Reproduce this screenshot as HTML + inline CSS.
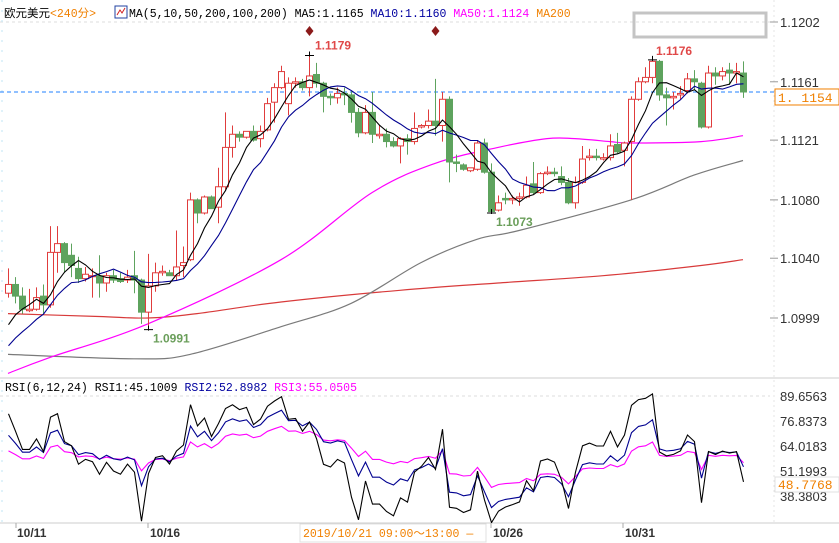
<!DOCTYPE html>
<html><head><meta charset="utf-8"><style>
body{margin:0;background:#fff;width:839px;height:543px;overflow:hidden}
svg{display:block}
.mono{font-family:"Liberation Mono","Noto Sans CJK SC",monospace;font-size:11.5px}
.ax{font-family:"Liberation Sans",sans-serif;font-size:13px;fill:#333}
</style></head><body>
<svg id="c" width="839" height="543" viewBox="0 0 839 543" xmlns="http://www.w3.org/2000/svg">
<line x1="0" y1="22" x2="770" y2="22" stroke="#ddd" stroke-dasharray="3,3"/>
<line x1="0" y1="378" x2="839" y2="378" stroke="#ccc"/>
<line x1="0" y1="396" x2="770" y2="396" stroke="#ddd" stroke-dasharray="3,3"/>
<line x1="0" y1="523" x2="839" y2="523" stroke="#ccc"/>
<line x1="774" y1="0" x2="774" y2="523" stroke="#e4e4e4" stroke-dasharray="2,3"/>
<line x1="2" y1="0" x2="2" y2="523" stroke="#bfe4f5" stroke-dasharray="2,8"/>
<text x="4" y="17" class="mono"><tspan fill="#000">欧元美元</tspan><tspan fill="#f08000">&lt;240分&gt;</tspan></text>
<rect x="115" y="6" width="12" height="12" fill="#fff" stroke="#2040a0"/>
<polyline points="117,15 120,10 122,13 125,8" fill="none" stroke="#d02020"/>
<text x="129" y="17" class="mono"><tspan fill="#000">MA(5,10,50,200,100,200) MA5:1.1165 </tspan><tspan fill="#0000a0">MA10:1.1160 </tspan><tspan fill="#ff00ff">MA50:1.1124 </tspan><tspan fill="#f08000">MA200</tspan></text>
<rect x="634" y="13" width="132" height="24" fill="none" stroke="#c4c4c4" stroke-width="3"/>
<g id="main"></g>
<g id="rsi"></g>
<text x="5" y="391" class="mono"><tspan fill="#000">RSI(6,12,24) RSI1:45.1009 </tspan><tspan fill="#0000a0">RSI2:52.8982 </tspan><tspan fill="#ff00ff">RSI3:55.0505</tspan></text>
<text x="17" y="537" font-family="Liberation Sans,sans-serif" font-size="12" font-weight="bold" fill="#333">10/11</text>
<text x="150" y="537" font-family="Liberation Sans,sans-serif" font-size="12" font-weight="bold" fill="#333">10/16</text>
<text x="493" y="537" font-family="Liberation Sans,sans-serif" font-size="12" font-weight="bold" fill="#333">10/26</text>
<text x="625" y="537" font-family="Liberation Sans,sans-serif" font-size="12" font-weight="bold" fill="#333">10/31</text>
<line x1="16" y1="523" x2="16" y2="528" stroke="#aaa"/><line x1="148" y1="523" x2="148" y2="528" stroke="#aaa"/><line x1="491" y1="523" x2="491" y2="528" stroke="#aaa"/><line x1="623" y1="523" x2="623" y2="528" stroke="#aaa"/>
<rect x="300" y="524" width="186" height="18" fill="#fff" stroke="#e0e0e0"/>
<text x="303" y="537" class="mono" fill="#f08000" font-size="12">2019/10/21 09:00～13:00 —</text>
</svg>
<script>
const open=[1.1016,1.1022,1.1014,1.1004,1.1005,1.1014,1.1008,1.1044,1.1050,1.1042,1.1033,1.1026,1.1028,1.1028,1.1023,1.1028,1.1026,1.1025,1.1028,1.1025,1.1003,1.1021,1.1030,1.1030,1.1028,1.1035,1.1039,1.1080,1.1071,1.1082,1.1075,1.1089,1.1116,1.1125,1.1123,1.1127,1.1122,1.1128,1.1147,1.1157,1.1146,1.1160,1.1161,1.1157,1.1166,1.1160,1.1151,1.1150,1.1153,1.1152,1.1140,1.1126,1.1140,1.1124,1.1125,1.1120,1.1117,1.1122,1.1120,1.1130,1.1131,1.1134,1.1131,1.1149,1.1106,1.1104,1.1100,1.1101,1.1119,1.1099,1.1073,1.1081,1.1080,1.1081,1.1082,1.1091,1.1085,1.1098,1.1099,1.1096,1.1092,1.1078,1.1092,1.1109,1.1110,1.1108,1.1109,1.1118,1.1114,1.1120,1.1149,1.1161,1.1164,1.1175,1.1152,1.1150,1.1152,1.1155,1.1163,1.1160,1.1130,1.1167,1.1165,1.1169,1.1167,1.1167];
const high=[1.1033,1.1027,1.1020,1.1019,1.1020,1.1022,1.1062,1.1062,1.1051,1.1050,1.1041,1.1034,1.1033,1.1042,1.1030,1.1032,1.1030,1.1032,1.1045,1.1026,1.1043,1.1037,1.1035,1.1032,1.1059,1.1048,1.1085,1.1081,1.1083,1.1083,1.1102,1.1140,1.1131,1.1127,1.1127,1.1131,1.1131,1.1150,1.1160,1.1172,1.1164,1.1164,1.1163,1.1179,1.1174,1.1161,1.1153,1.1157,1.1157,1.1155,1.1143,1.1145,1.1154,1.1131,1.1129,1.1123,1.1123,1.1125,1.1140,1.1132,1.1142,1.1163,1.1154,1.1151,1.1111,1.1105,1.1102,1.1121,1.1122,1.1105,1.1083,1.1085,1.1083,1.1085,1.1096,1.1106,1.1099,1.1103,1.1102,1.1103,1.1095,1.1096,1.1117,1.1115,1.1115,1.1112,1.1125,1.1126,1.1120,1.1151,1.1164,1.1171,1.1176,1.1176,1.1157,1.1154,1.1158,1.1167,1.1169,1.1161,1.1172,1.1171,1.1171,1.1174,1.1174,1.1175];
const low=[1.1013,1.1009,1.1002,1.1003,1.1004,1.1002,1.1006,1.1030,1.1030,1.1027,1.1023,1.1024,1.1013,1.1013,1.1017,1.1023,1.1023,1.1023,1.1016,1.0995,1.0991,1.1017,1.1028,1.1028,1.1025,1.1027,1.1038,1.1064,1.1070,1.1074,1.1064,1.1087,1.1109,1.1120,1.1122,1.1120,1.1116,1.1127,1.1133,1.1156,1.1138,1.1157,1.1155,1.1151,1.1157,1.1140,1.1145,1.1146,1.1145,1.1133,1.1123,1.1125,1.1119,1.1122,1.1116,1.1116,1.1105,1.1111,1.1118,1.1129,1.1129,1.1124,1.1120,1.1092,1.1099,1.1100,1.1099,1.1100,1.1098,1.1071,1.1072,1.1077,1.1077,1.1076,1.1081,1.1084,1.1084,1.1097,1.1096,1.1090,1.1077,1.1074,1.1091,1.1107,1.1107,1.1107,1.1107,1.1112,1.1103,1.1080,1.1148,1.1160,1.1160,1.1148,1.1131,1.1142,1.1149,1.1153,1.1155,1.1129,1.1129,1.1159,1.1162,1.1159,1.1160,1.1150];
const close=[1.1022,1.1014,1.1005,1.1005,1.1013,1.1008,1.1044,1.1050,1.1037,1.1035,1.1026,1.1029,1.1028,1.1023,1.1028,1.1025,1.1024,1.1027,1.1025,1.1003,1.1021,1.1030,1.1031,1.1028,1.1034,1.1037,1.1080,1.1071,1.1082,1.1074,1.1089,1.1116,1.1125,1.1123,1.1127,1.1121,1.1127,1.1146,1.1157,1.1168,1.1160,1.1161,1.1157,1.1165,1.1160,1.1151,1.1150,1.1153,1.1152,1.1140,1.1126,1.1140,1.1125,1.1125,1.1120,1.1117,1.1122,1.1120,1.1129,1.1131,1.1134,1.1131,1.1149,1.1106,1.1105,1.1101,1.1102,1.1119,1.1099,1.1072,1.1078,1.1080,1.1081,1.1082,1.1090,1.1085,1.1098,1.1099,1.1098,1.1092,1.1078,1.1092,1.1108,1.1110,1.1109,1.1109,1.1117,1.1113,1.1119,1.1149,1.1161,1.1164,1.1175,1.1152,1.1150,1.1151,1.1153,1.1163,1.1161,1.1130,1.1167,1.1165,1.1168,1.1167,1.1168,1.1154];
const priorCloses=[1.0960,1.0962,1.0965,1.0968,1.0972,1.0980,1.0985,1.0990,1.0995];
const ma50Idx=[0,6,20,39,52,61,70,77,81,86,89,99,105];
const ma50Val=[1.0961,1.0972,1.0995,1.1039,1.1085,1.1105,1.1116,1.1122,1.1122,1.1120,1.1119,1.1120,1.1124];
const ma100Idx=[0,18,26,39,49,59,67,73,89,98,105];
const ma100Val=[1.0974,1.0971,1.0974,1.0993,1.1009,1.1037,1.1053,1.1059,1.1080,1.1097,1.1107];
const ma200Idx=[0,13,20,27,39,56,70,85,99,105];
const ma200Val=[1.1002,1.1000,1.0999,1.1002,1.1010,1.1018,1.1023,1.1028,1.1035,1.1039];
const priceTicks=[1.1202,1.1161,1.1121,1.1080,1.1040,1.0999];
const rsiTicks=[89.6563,76.8373,64.0183,51.1993,38.3803];
const rsiPeriods=[6,12,24];
const rsiSeeds=[70,62,57];
const lastPrice=1.1154, lastRsi="48.7768";

const NS="http://www.w3.org/2000/svg";
const xS=i=>8+7*i;
const yP=p=>22+(1.1202-p)*14581;
const yR=v=>396+(89.6563-v)*1.95;
function mk(tag,attrs,parent){const e=document.createElementNS(NS,tag);for(const k in attrs)e.setAttribute(k,attrs[k]);parent.appendChild(e);return e;}
const main=document.getElementById('main'), rsiG=document.getElementById('rsi'), svg=document.getElementById('c');

priceTicks.forEach(t=>{
  const l=mk('line',{x1:770,y1:yP(t),x2:778,y2:yP(t),stroke:'#999'},svg);
  
  
  const tx=mk('text',{x:780,y:yP(t)+5,class:'ax'},svg);tx.textContent=t.toFixed(4);
  
  
});
rsiTicks.forEach(t=>{
  const tx=mk('text',{x:780,y:yR(t)+5,class:'ax'},svg);tx.textContent=t.toFixed(4);
  
  
});

function sparseLine(idx,val,color,name){
  const P=idx.map((i,k)=>[xS(i),yP(val[k])]);
  let d='M'+P[0][0]+','+P[0][1].toFixed(1);
  for(let k=0;k<P.length-1;k++){
    const p0=P[Math.max(k-1,0)],p1=P[k],p2=P[k+1],p3=P[Math.min(k+2,P.length-1)];
    const c1=[p1[0]+(p2[0]-p0[0])/6,p1[1]+(p2[1]-p0[1])/6];
    const c2=[p2[0]-(p3[0]-p1[0])/6,p2[1]-(p3[1]-p1[1])/6];
    d+=` C${c1[0].toFixed(1)},${c1[1].toFixed(1)} ${c2[0].toFixed(1)},${c2[1].toFixed(1)} ${p2[0]},${p2[1].toFixed(1)}`;
  }
  const pl=mk('path',{d:d,fill:'none',stroke:color,'stroke-width':1.2},main);
  
  
}
sparseLine(ma200Idx,ma200Val,'#d83a3a','ma200-line');
sparseLine(ma100Idx,ma100Val,'#7a7a7a','ma100-line');
sparseLine(ma50Idx,ma50Val,'#ff00ff','ma50-line');

const cl=mk('line',{x1:0,y1:yP(lastPrice),x2:775,y2:yP(lastPrice),stroke:'#2080ff','stroke-dasharray':'4,3'},main);



const UP='#e03c3c',DN='#5ea35e';
for(let i=0;i<close.length;i++){
  const x=xS(i), up=close[i]>=open[i], col=up?UP:DN;
  const top=yP(Math.max(open[i],close[i])), bot=yP(Math.min(open[i],close[i]));
  const w=mk('line',{x1:x+0.5,y1:yP(high[i]),x2:x+0.5,y2:yP(low[i]),stroke:col},main);
  
  
  const h=Math.max(bot-top,1);
  const b=mk('rect',{x:x-2.5,y:top,width:6,height:h,fill:up?'#fff':col,stroke:col},main);
  
  
}

const all=priorCloses.concat(close);
function maLine(n,color,name){
  const pts=[];
  for(let i=0;i<close.length;i++){const j=i+priorCloses.length;let s=0;for(let k=j-n+1;k<=j;k++)s+=all[k];pts.push(xS(i)+0.5+','+yP(s/n).toFixed(1));}
  const pl=mk('polyline',{points:pts.join(' '),fill:'none',stroke:color,'stroke-width':1.1},main);
  
  
}
maLine(10,'#000090','ma10-line');
maLine(5,'#000','ma5-line');

function mark(i,p,txt,color,dx,dy,name){
  const m=mk('path',{d:`M${xS(i)-4},${yP(p)}h9M${xS(i)+0.5},${yP(p)-4}v5`,stroke:'#000'},main);
  
  
  const t=mk('text',{x:xS(i)+dx,y:yP(p)+dy,fill:color,'font-family':'Liberation Sans,sans-serif','font-size':12,'font-weight':'bold'},main);
  t.textContent=txt;
  
  
}
mark(43,high[43],'1.1179','#e04848',6,-6,'high-1');
mark(92,high[92],'1.1176','#e04848',4,-5,'high-2');
mark(20,low[20],'1.0991','#6a9e5a',5,13,'low-1');
mark(69,low[69],'1.1073','#6a9e5a',5,13,'low-2');
[43,61].forEach(i=>{
  const d=mk('path',{d:`M${xS(i)+0.5},26l4,5l-4,5l-4,-5z`,fill:'#8b1a1a'},main);
  
  
});

const lb=mk('rect',{x:775,y:yP(lastPrice)-3,width:64,height:16,fill:'#fff',stroke:'#f08000'},svg);


const lt=mk('text',{x:778,y:yP(lastPrice)+10,fill:'#f08000','font-family':'Liberation Mono,monospace','font-size':13},svg);
lt.textContent='1. 1154';



const cp=mk('clipPath',{id:'rc'},svg);mk('rect',{x:0,y:390,width:770,height:133},cp);
const rg=mk('g',{'clip-path':'url(#rc)'},rsiG);
const rsiColors=['#000','#000090','#ff00ff'];
const rsiNames=['rsi6-line','rsi12-line','rsi24-line'];
[2,1,0].forEach(k=>{
  const n=rsiPeriods[k];let ab=0.0010,upA=rsiSeeds[k]/100*ab,prev=priorCloses[priorCloses.length-1];const pts=[];
  for(let i=0;i<close.length;i++){const d=close[i]-prev;prev=close[i];upA=(Math.max(d,0)+(n-1)*upA)/n;ab=(Math.abs(d)+(n-1)*ab)/n;const v=ab>0?upA/ab*100:50;pts.push(xS(i)+0.5+','+yR(v).toFixed(1));}
  const pl=mk('polyline',{points:pts.join(' '),fill:'none',stroke:rsiColors[k],'stroke-width':1.1},rg);
  
  
});
const rb=mk('rect',{x:775,y:477,width:64,height:15,fill:'#fff',stroke:'#e0e0e0'},svg);


const rt=mk('text',{x:778,y:489,fill:'#f08000','font-family':'Liberation Mono,monospace','font-size':13},svg);
rt.textContent=lastRsi;


</script>
</body></html>
